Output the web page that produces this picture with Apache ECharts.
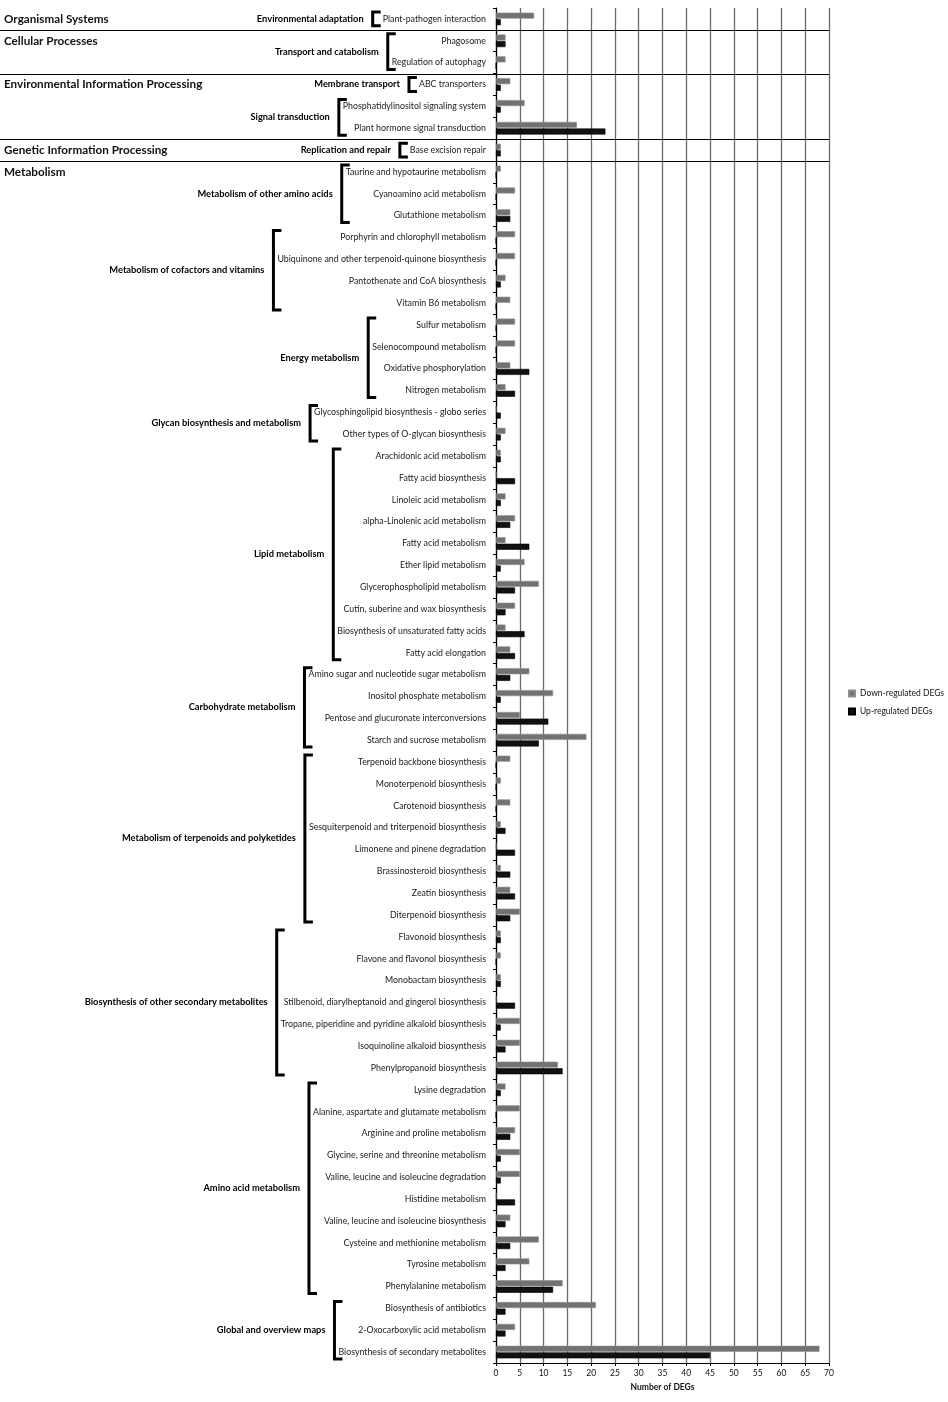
<!DOCTYPE html>
<html lang="en">
<head>
    <meta charset="UTF-8">
    <title>KEGG DEGs</title>
    <script src="https://cdn.jsdelivr.net/npm/echarts@6/dist/echarts.min.js"></script>
    <style>
        html, body { margin: 0; padding: 0; background: #fff; }
    </style>
</head>
<body>
<div id="main" style="width: 948px;height: 1402px;"></div>
<script>
    // 通路名称（从上到下）
    var categories = [
        'Plant-pathogen interaction',
        'Phagosome', 'Regulation of autophagy',
        'ABC transporters', 'Phosphatidylinositol signaling system', 'Plant hormone signal transduction',
        'Base excision repair',
        'Taurine and hypotaurine metabolism', 'Cyanoamino acid metabolism', 'Glutathione metabolism',
        'Porphyrin and chlorophyll metabolism', 'Ubiquinone and other terpenoid-quinone biosynthesis',
        'Pantothenate and CoA biosynthesis', 'Vitamin B6 metabolism',
        'Sulfur metabolism', 'Selenocompound metabolism', 'Oxidative phosphorylation', 'Nitrogen metabolism',
        'Glycosphingolipid biosynthesis - globo series', 'Other types of O-glycan biosynthesis',
        'Arachidonic acid metabolism', 'Fatty acid biosynthesis', 'Linoleic acid metabolism',
        'alpha-Linolenic acid metabolism', 'Fatty acid metabolism', 'Ether lipid metabolism',
        'Glycerophospholipid metabolism', 'Cutin, suberine and wax biosynthesis',
        'Biosynthesis of unsaturated fatty acids', 'Fatty acid elongation',
        'Amino sugar and nucleotide sugar metabolism', 'Inositol phosphate metabolism',
        'Pentose and glucuronate interconversions', 'Starch and sucrose metabolism',
        'Terpenoid backbone biosynthesis', 'Monoterpenoid biosynthesis', 'Carotenoid biosynthesis',
        'Sesquiterpenoid and triterpenoid biosynthesis', 'Limonene and pinene degradation',
        'Brassinosteroid biosynthesis', 'Zeatin biosynthesis', 'Diterpenoid biosynthesis',
        'Flavonoid biosynthesis', 'Flavone and flavonol biosynthesis', 'Monobactam biosynthesis',
        'Stilbenoid, diarylheptanoid and gingerol biosynthesis',
        'Tropane, piperidine and pyridine alkaloid biosynthesis', 'Isoquinoline alkaloid biosynthesis',
        'Phenylpropanoid biosynthesis',
        'Lysine degradation', 'Alanine, aspartate and glutamate metabolism', 'Arginine and proline metabolism',
        'Glycine, serine and threonine metabolism', 'Valine, leucine and isoleucine degradation',
        'Histidine metabolism', 'Valine, leucine and isoleucine biosynthesis',
        'Cysteine and methionine metabolism', 'Tyrosine metabolism', 'Phenylalanine metabolism',
        'Biosynthesis of antibiotics', '2-Oxocarboxylic acid metabolism',
        'Biosynthesis of secondary metabolites'
    ];

    var downRegulated = [
        8, 2, 2, 3, 6, 17, 1, 1, 4, 3,
        4, 4, 2, 3, 4, 4, 3, 2, 0, 2,
        1, 0, 2, 4, 2, 6, 9, 4, 2, 3,
        7, 12, 5, 19, 3, 1, 3, 1, 0, 1,
        3, 5, 1, 1, 1, 0, 5, 5, 13, 2,
        5, 4, 5, 5, 0, 3, 9, 7, 14, 21,
        4, 68
    ];

    var upRegulated = [
        1, 2, 0, 1, 1, 23, 1, 0, 0, 3,
        0, 0, 1, 0, 0, 0, 7, 4, 1, 1,
        1, 4, 1, 3, 7, 1, 4, 2, 6, 4,
        3, 1, 11, 9, 0, 0, 0, 2, 4, 3,
        4, 3, 1, 0, 1, 4, 1, 2, 14, 1,
        0, 3, 1, 1, 4, 2, 3, 2, 12, 2,
        2, 45
    ];

    // 一级分类：名称 + 包含的通路数
    var classNames = ['Organismal Systems', 'Cellular Processes', 'Environmental Information Processing',
        'Genetic Information Processing', 'Metabolism'];
    var classSizes = [1, 2, 3, 1, 55];

    // 二级分类：名称 + 包含的通路数
    var subclassNames = ['Environmental adaptation', 'Transport and catabolism', 'Membrane transport',
        'Signal transduction', 'Replication and repair', 'Metabolism of other amino acids',
        'Metabolism of cofactors and vitamins', 'Energy metabolism', 'Glycan biosynthesis and metabolism',
        'Lipid metabolism', 'Carbohydrate metabolism', 'Metabolism of terpenoids and polyketides',
        'Biosynthesis of other secondary metabolites', 'Amino acid metabolism', 'Global and overview maps'];
    var subclassSizes = [1, 2, 1, 2, 1, 3, 4, 4, 2, 10, 4, 8, 7, 10, 3];

    var xTicks = [0, 70, 5];   // min, max, interval
    var seriesNames = ['Down-regulated DEGs', 'Up-regulated DEGs'];

    (function () {
        var FONT = 'Lato';
        var labelSize = 8.8;
        var labelMargin = 10;

        var myChart = echarts.init(document.getElementById('main'));

        var option = {
            animation: false,
            textStyle: { fontFamily: FONT },
            grid: { left: 496, right: 119, top: 8, bottom: 39 },
            legend: {
                data: seriesNames,
                orient: 'vertical',
                left: 843,
                top: 684,
                icon: 'rect',
                itemWidth: 6,
                itemHeight: 6,
                itemGap: 9,
                textStyle: { fontSize: 8.5, color: '#111', fontFamily: FONT }
            },
            xAxis: {
                type: 'value',
                min: xTicks[0],
                max: xTicks[1],
                interval: xTicks[2],
                name: 'Number of DEGs',
                nameLocation: 'middle',
                nameGap: 20,
                nameTextStyle: { fontSize: 8.5, fontWeight: 'bold', color: '#111' },
                axisLine: { show: true, lineStyle: { color: '#000', width: 1.2 } },
                axisTick: { show: true, length: 3, lineStyle: { color: '#000' } },
                axisLabel: { fontSize: 8.5, color: '#111', margin: 6 },
                splitLine: { show: true, lineStyle: { color: '#6a6a6a', width: 1.3 } }
            },
            yAxis: {
                type: 'category',
                inverse: true,
                data: categories,
                axisLine: { show: true, lineStyle: { color: '#000', width: 1.2 } },
                axisTick: { show: true, length: 3, lineStyle: { color: '#000' } },
                axisLabel: { fontSize: labelSize, color: '#1a1a1a', margin: labelMargin, interval: 0 },
                splitLine: { show: false }
            },
            series: [
                {
                    name: seriesNames[0],
                    type: 'bar',
                    data: downRegulated,
                    barWidth: 6,
                    barGap: '10%',
                    itemStyle: { color: '#727272', borderColor: '#8e8e8e', borderWidth: 0.6 }
                },
                {
                    name: seriesNames[1],
                    type: 'bar',
                    data: upRegulated,
                    barWidth: 6,
                    itemStyle: { color: '#111', borderColor: '#000', borderWidth: 0.6 }
                }
            ]
        };
        myChart.setOption(option);

        // 左侧分类注释：括号、分类名、分隔线
        var ctx = document.createElement('canvas').getContext('2d');
        function textWidth(s, font) {
            ctx.font = font;
            return ctx.measureText(s).width;
        }
        function yOf(i) { return myChart.convertToPixel({ yAxisIndex: 0 }, i); }
        var half = (yOf(1) - yOf(0)) / 2;
        var x0 = myChart.convertToPixel({ xAxisIndex: 0 }, xTicks[0]);
        var xEnd = myChart.convertToPixel({ xAxisIndex: 0 }, xTicks[1]);
        var labelRight = x0 - labelMargin;

        var graphics = [];

        // 一级分类
        var start = 0;
        for (var i = 0; i < classNames.length; i++) {
            graphics.push({
                type: 'text',
                x: 4,
                y: yOf(start),
                style: {
                    text: classNames[i], font: 'bold 11.7px ' + FONT, fill: '#111',
                    align: 'left', verticalAlign: 'middle'
                }
            });
            if (i > 0) {
                var ly = Math.round(yOf(start) - half) + 0.5;
                graphics.push({
                    type: 'line',
                    shape: { x1: 0, y1: ly, x2: xEnd, y2: ly },
                    style: { stroke: '#000', lineWidth: 1.2 }
                });
            }
            start += classSizes[i];
        }

        // 二级分类
        start = 0;
        for (var j = 0; j < subclassNames.length; j++) {
            var maxW = 0;
            for (var k = start; k < start + subclassSizes[j]; k++) {
                maxW = Math.max(maxW, textWidth(categories[k], labelSize + 'px ' + FONT));
            }
            // 单项分组的括号离文字更远一些
            var gap = subclassSizes[j] === 1 ? 10 : 4;
            var bx = labelRight - maxW - gap;
            var yTop = yOf(start) - half + 4;
            var yBottom = yOf(start + subclassSizes[j] - 1) + half - 4;
            graphics.push({
                type: 'polyline',
                shape: { points: [[bx + 8, yTop], [bx, yTop], [bx, yBottom], [bx + 8, yBottom]] },
                style: { stroke: '#000', lineWidth: 3, fill: 'none', lineJoin: 'miter' }
            });
            graphics.push({
                type: 'text',
                x: bx - 9,
                y: (yTop + yBottom) / 2,
                style: {
                    text: subclassNames[j], font: 'bold 9.3px ' + FONT, fill: '#000',
                    align: 'right', verticalAlign: 'middle'
                }
            });
            start += subclassSizes[j];
        }

        myChart.setOption({ graphic: graphics });
    })();
</script>
</body>
</html>
